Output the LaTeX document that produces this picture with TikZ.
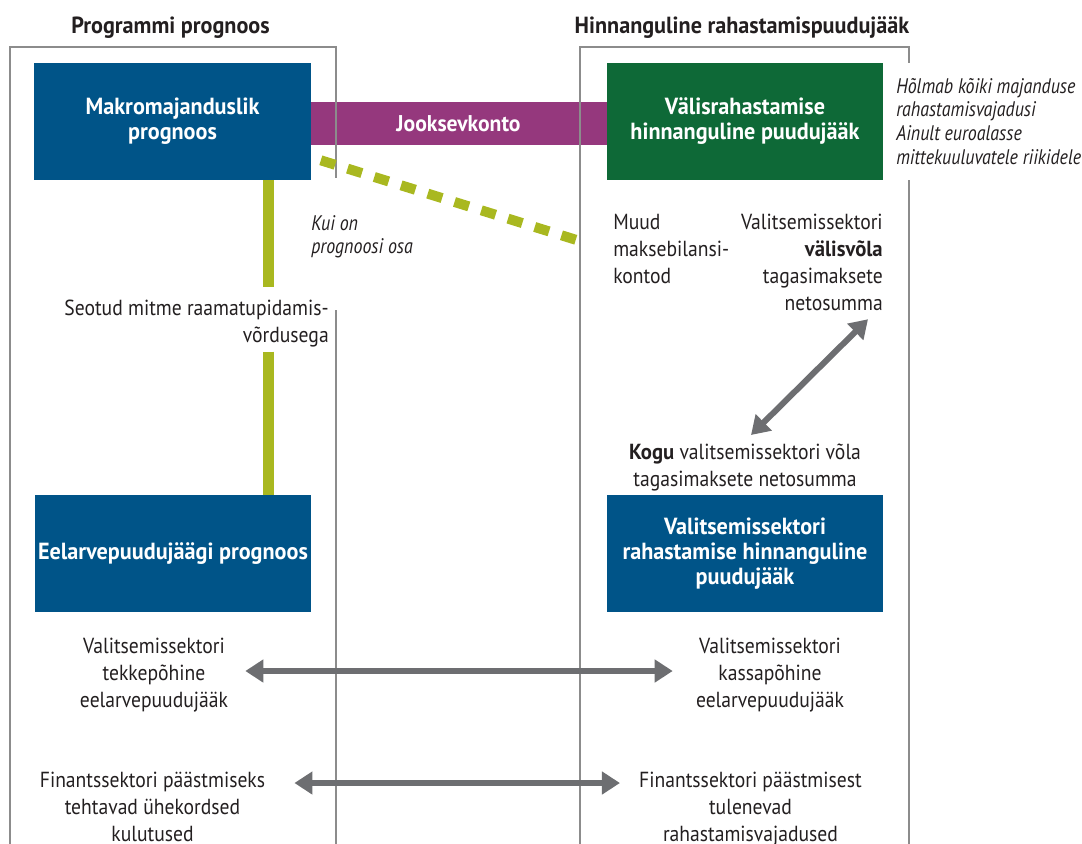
\documentclass[tikz,border=0pt]{standalone}
\usepackage{fontspec}
\setmainfont{PT Sans}[FakeStretch=0.90,
  BoldFeatures={FakeStretch=0.95},
  ItalicFeatures={FakeStretch=0.85}]
\usetikzlibrary{arrows.meta,positioning}

\definecolor{boxblue}{RGB}{0,84,136}
\definecolor{boxgreen}{RGB}{14,105,55}
\definecolor{barpurple}{RGB}{149,56,125}
\definecolor{linkolive}{RGB}{169,184,32}
\definecolor{arrowgray}{RGB}{109,110,113}
\definecolor{framegray}{RGB}{140,140,140}
\definecolor{textdark}{RGB}{35,31,32}

\tikzset{
  bluebox/.style={fill=boxblue, text=white, font=\bfseries\fontsize{16.6}{17.8}\selectfont,
    align=center, minimum width=6.9cm, minimum height=2.925cm, inner sep=0pt},
  greenbox/.style={bluebox, fill=boxgreen},
  jooksevbar/.style={fill=barpurple, text=white, font=\bfseries\fontsize{16.2}{17.8}\selectfont,
    minimum width=7.425cm, minimum height=1.075cm, inner sep=0pt},
  coltitle/.style={text=textdark, font=\bfseries\fontsize{16.6}{18}\selectfont, inner sep=0pt},
  bodytext/.style={text=textdark, font=\fontsize{15.5}{19.2}\selectfont, inner sep=0pt, align=center},
  notetext/.style={text=textdark, font=\itshape\fontsize{15}{16.8}\selectfont, inner sep=0pt, align=left},
  frameline/.style={draw=framegray, line width=1pt},
  linkbar/.style={draw=linkolive, line width=0.275cm},
  linkdash/.style={draw=linkolive, line width=0.25cm, dash pattern=on 0.375cm off 0.325cm},
  dblarrow/.style={draw=arrowgray, line width=0.15cm, <->}
}

\begin{document}
\begin{tikzpicture}[x=0.025cm, y=-0.025cm,
  >={Triangle[length=0.45cm, width=0.55cm]}]

  \useasboundingbox (0,0) rectangle (1082,843);

  %--------------------------
  % Column titles
  %--------------------------
  \node[coltitle, anchor=base] (progtitle) at (170.5,33) {Programmi prognoos};
  \node[coltitle, anchor=base] (hinntitle) at (742,33) {Hinnanguline rahastamispuudujääk};

  %--------------------------
  % Boxes
  %--------------------------
  \node[jooksevbar] (jooksev) at (458.5,123.5) {Jooksevkonto};

  \node[bluebox] (makro) at (172.5,121.5) {Makromajanduslik\\prognoos};
  \node[greenbox] (valisrah) at (745,121.5) {Välisrahastamise\\hinnanguline puudujääk};
  \node[bluebox] (eelarve) at (173,553.5) {Eelarvepuudujäägi prognoos};
  \node[bluebox] (rahast) at (745,553.5) {Valitsemissektori\\rahastamise hinnanguline\\puudujääk};

  % Frames
  \draw[frameline] (10,850) -- (10,47) -- (336,47) -- (336,178);
  \draw[frameline] (336,310) -- (336,850);
  \draw[frameline] (580,850) -- (580,47) -- (909,47) -- (909,63);
  \draw[frameline] (909,180) -- (909,850);

  %--------------------------
  % Texts
  %--------------------------
  \node[notetext, anchor=north west] (holmab) at (896,78)
    {Hõlmab kõiki majanduse\\rahastamisvajadusi\\Ainult euroalasse\\mittekuuluvatele riikidele};
  \node[notetext, anchor=north west] (kuion) at (311,215) {Kui on\\prognoosi osa};
  \node[bodytext, anchor=north east, align=right] (seotud) at (329,300)
    {Seotud mitme raamatupidamis-\\võrdusega};
  \node[bodytext, anchor=north west, align=left] (muud) at (613,214) {Muud\\maksebilansi-\\kontod};
  \node[bodytext, anchor=north east, align=right] (valis) at (883,214)
    {Valitsemissektori\\\textbf{välisvõla}\\tagasimaksete\\netosumma};
  \node[bodytext, anchor=north] (kogu) at (745,444)
    {\textbf{Kogu} valitsemissektori võla\\tagasimaksete netosumma};

  \node[bodytext, anchor=north] (tekke) at (154,638) {Valitsemissektori\\tekkepõhine\\eelarvepuudujääk};
  \node[bodytext, anchor=north] (kassa) at (770,638) {Valitsemissektori\\kassapõhine\\eelarvepuudujääk};
  \node[bodytext, anchor=north] (finkulu) at (152.5,772)
    {Finantssektori päästmiseks\\tehtavad ühekordsed\\kulutused};
  \node[bodytext, anchor=north] (finvaja) at (750.5,772)
    {Finantssektori päästmisest\\tulenevad\\rahastamisvajadused};

  %--------------------------
  % Links
  %--------------------------
  \coordinate (barx) at (268,0);
  \draw[linkbar, shorten >=0.325cm] (makro.south -| barx) -- (seotud.north -| barx);
  \draw[linkbar, shorten <=0.1cm] (seotud.south -| barx) -- (eelarve.north -| barx);

  \draw[linkdash] ([shift={(10,-20)}]makro.south east) -- ([shift={(-30,28)}]muud.north west);

  \draw[dblarrow] ([shift={(-15,8)}]valis.south east) -- ([shift={(6,-9)}]kogu.north);
  \draw[dblarrow] ([shift={(17,33)}]tekke.north east) -- ([shift={(-23,33)}]kassa.north west);
  \draw[dblarrow] ([shift={(29,11)}]finkulu.north east) -- ([shift={(-19,11)}]finvaja.north west);

\end{tikzpicture}
\end{document}
